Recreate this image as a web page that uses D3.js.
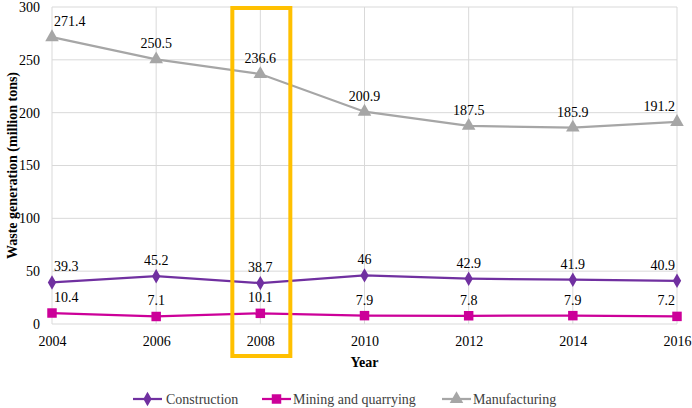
<!DOCTYPE html>
<html><head><meta charset="utf-8">
<script src="https://cdn.jsdelivr.net/npm/d3@7"></script>
<style>body{margin:0;background:#fff;}</style>
</head><body><svg id="c" width="692" height="408"></svg>
<script>
const years = [2004, 2006, 2008, 2010, 2012, 2014, 2016];
const construction = [39.3, 45.2, 38.7, 46, 42.9, 41.9, 40.9];
const mining = [10.4, 7.1, 10.1, 7.9, 7.8, 7.9, 7.2];
const manufacturing = [271.4, 250.5, 236.6, 200.9, 187.5, 185.9, 191.2];
const yTicks = [0, 50, 100, 150, 200, 250, 300];
const highlightYear = 2008;

const series = [
  {name: "Construction", values: construction, color: "#7030A0", marker: "diamond"},
  {name: "Mining and quarrying", values: mining, color: "#CC0099", marker: "square"},
  {name: "Manufacturing", values: manufacturing, color: "#A6A6A6", marker: "triangle"}
];

const FF = "Liberation Serif";
const svg = d3.select("#c").attr("font-family", FF);
const L = 52, R = 677, T = 7, B = 324;
const x = d3.scaleLinear().domain([2004, 2016]).range([L, R]);
const y = d3.scaleLinear().domain([0, 300]).range([B, T]);

svg.append("g").selectAll("line").data(yTicks).join("line")
  .attr("x1", L).attr("x2", R).attr("y1", d => y(d)).attr("y2", d => y(d))
  .attr("stroke", "#D9D9D9").attr("stroke-width", 1);
svg.append("g").selectAll("line").data(years).join("line")
  .attr("x1", d => x(d)).attr("x2", d => x(d)).attr("y1", T).attr("y2", B)
  .attr("stroke", "#D9D9D9").attr("stroke-width", 1);

const yAxis = svg.append("g").attr("transform", `translate(${L},0)`)
  .call(d3.axisLeft(y).tickValues(yTicks).tickSize(0).tickPadding(12));
yAxis.attr("font-family", FF).attr("font-size", 14);
yAxis.select(".domain").remove();
yAxis.selectAll("text").attr("fill", "#000");
const xAxis = svg.append("g").attr("transform", `translate(0,${B})`)
  .call(d3.axisBottom(x).tickValues(years).tickFormat(d3.format("d")).tickSize(0).tickPadding(12));
xAxis.attr("font-family", FF).attr("font-size", 14);
xAxis.select(".domain").remove();
xAxis.selectAll("text").attr("fill", "#000");

svg.append("text").attr("transform", `translate(17,${(T + B) / 2}) rotate(-90)`)
  .attr("text-anchor", "middle").attr("font-size", 14).attr("font-weight", "bold")
  .text("Waste generation (million tons)");
svg.append("text").attr("x", (L + R) / 2).attr("y", 367)
  .attr("text-anchor", "middle").attr("font-size", 14).attr("font-weight", "bold").text("Year");

const symType = {diamond: d3.symbolDiamond, square: d3.symbolSquare, triangle: d3.symbolTriangle};
const symSize = {diamond: 60, square: 90, triangle: 80};
const line = d3.line().x(d => x(d[0])).y(d => y(d[1]));

series.forEach(s => {
  const pts = years.map((yr, i) => [yr, s.values[i]]);
  svg.append("path").datum(pts).attr("d", line).attr("fill", "none")
    .attr("stroke", s.color).attr("stroke-width", 2.25);
  svg.append("g").selectAll("path").data(pts).join("path")
    .attr("transform", d => `translate(${x(d[0])},${y(d[1])})`)
    .attr("d", d3.symbol().type(symType[s.marker]).size(symSize[s.marker]))
    .attr("fill", s.color);
  const labels = svg.append("g").selectAll("text").data(pts).join("text")
    .attr("x", d => x(d[0])).attr("y", d => y(d[1]) - 11)
    .attr("text-anchor", "middle").attr("font-size", 14).attr("fill", "#000")
    .text(d => String(d[1]));
  labels.each(function(d) {
    const w = this.getComputedTextLength();
    let cx = x(d[0]);
    if (cx - w / 2 < L + 2) cx = L + 2 + w / 2;
    if (cx + w / 2 > R - 2) cx = R - 2 - w / 2;
    d3.select(this).attr("x", cx);
  });
});

svg.append("rect").attr("x", x(highlightYear) - 28).attr("y", 8)
  .attr("width", 58).attr("height", 348)
  .attr("fill", "none").attr("stroke", "#FFC000").attr("stroke-width", 4);

const leg = [
  {lx: 133, tx: 166},
  {lx: 262, tx: 293},
  {lx: 442, tx: 473}
];
series.forEach((s, i) => {
  const g = svg.append("g");
  g.append("line").attr("x1", leg[i].lx).attr("x2", leg[i].lx + 29).attr("y1", 399).attr("y2", 399)
    .attr("stroke", s.color).attr("stroke-width", 2.25);
  g.append("path").attr("transform", `translate(${leg[i].lx + 14.5},399)`)
    .attr("d", d3.symbol().type(symType[s.marker]).size(symSize[s.marker]))
    .attr("fill", s.color);
  g.append("text").attr("x", leg[i].tx).attr("y", 404).attr("font-size", 14).attr("fill", "#404040")
    .text(s.name);
});
</script></body></html>
